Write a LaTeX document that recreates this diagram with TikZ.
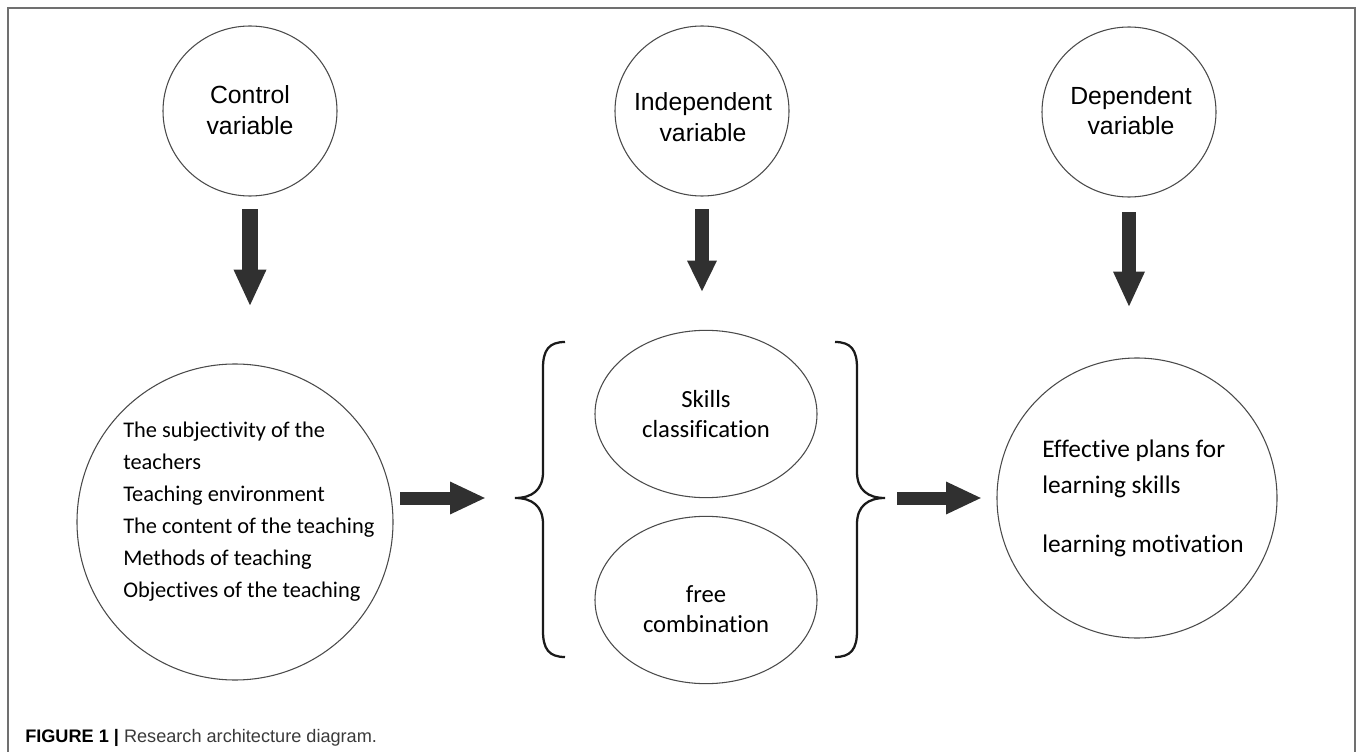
\documentclass[tikz,border=0pt]{standalone}
\usepackage{fontspec}
\setmainfont{Carlito}[Ligatures=NoCommon]
\newfontfamily\arialf{Liberation Sans}
\usetikzlibrary{arrows.meta,calc,shapes.geometric}
\definecolor{arrowc}{HTML}{303030}
\definecolor{linec}{HTML}{4A4A4A}
\definecolor{framec}{HTML}{707070}
\definecolor{bracec}{HTML}{1A1A1A}
\definecolor{captc}{HTML}{3A3A3A}
\begin{document}
\begin{tikzpicture}[x=0.75pt,y=-0.75pt,
  shapeline/.style={draw=linec,line width=0.8pt,inner sep=0pt},
  topell/.style={shapeline,ellipse,minimum width=130.5pt,minimum height=127.5pt},
  bigcirc/.style={shapeline,circle,minimum size=#1},
  midell/.style={shapeline,ellipse,minimum width=166.5pt,minimum height=125.5pt},
  toptxt/.style={font=\arialf\fontsize{18.6}{23}\selectfont,inner sep=0pt,anchor=base},
  bodytxt/.style={font=\fontsize{16.8}{24}\selectfont,inner sep=0pt,anchor=base west},
  righttxt/.style={font=\fontsize{19}{24}\selectfont,inner sep=0pt,anchor=base west},
  midtxt/.style={font=\fontsize{18.5}{24}\selectfont,inner sep=0pt,anchor=base},
  blk/.style n args={3}{draw=arrowc,line width=#1,-{Triangle[length=#2,width=#3]}},
  bracel/.style={draw=bracec,line width=1.7pt}
]
\useasboundingbox (0,0) rectangle (1357,752);
% frame
\draw[framec,line width=1.1pt] (8,752) -- (8,8) -- (1355,8) -- (1355,752);

% top circles
\node[topell] (ctrl) at (250,111) {};
\node[topell] (ind) at (702,111) {};
\node[topell] (dep) at (1129,112) {};
\node[toptxt] (ctrl1) at (250,104) {Control};
\node[toptxt] (ctrl2) at (250,135) {variable};
\node[toptxt] (ind1) at (703,111) {Independent};
\node[toptxt] (ind2) at (703,142) {variable};
\node[toptxt] (dep1) at (1131,105) {Dependent};
\node[toptxt] (dep2) at (1131,135) {variable};

% lower shapes
\node[bigcirc=237pt] (lc) at (235,522) {};
\node[midell] (sk) at (706,414) {};
\node[midell] (fc) at (706,600) {};
\node[bigcirc=210pt] (rc) at (1137,498) {};

% left circle text
\node[bodytxt] (l1) at (123,437) {The subjectivity of the};
\node[bodytxt] (l2) at (123,469) {teachers};
\node[bodytxt] (l3) at (123,501) {Teaching environment};
\node[bodytxt] (l4) at (123,533) {The content of the teaching};
\node[bodytxt] (l5) at (123,565) {Methods of teaching};
\node[bodytxt] (l6) at (123,597) {Objectives of the teaching};

% ellipse texts
\node[midtxt] (sk1) at (706,407) {Skills};
\node[midtxt] (sk2) at (706,437) {classification};
\node[midtxt] (fc1) at (706,602) {free};
\node[midtxt] (fc2) at (706,632) {combination};

% right circle text
\node[righttxt] (r1) at (1042,457) {Effective plans for};
\node[righttxt] (r2) at (1042,493) {learning skills};
\node[righttxt] (r3) at (1042,552) {learning motivation};

% brace tips
\coordinate (lbtip) at (515,498);
\coordinate (rbtip) at (885,498);

% braces
\draw[bracel] (565,342) .. controls (549,342) and (543,350) .. (543,368)
  -- (543,472) .. controls (543,490) and (532,498) .. (lbtip)
  .. controls (532,498) and (543,506) .. (543,524)
  -- (543,631) .. controls (543,649) and (549,657) .. (565,657);
\draw[bracel] (835,342) .. controls (851,342) and (857,350) .. (857,368)
  -- (857,472) .. controls (857,490) and (868,498) .. (rbtip)
  .. controls (868,498) and (857,506) .. (857,524)
  -- (857,631) .. controls (857,649) and (851,657) .. (835,657);

% down arrows
\draw[blk={12pt}{27.75pt}{22.5pt}] ($(ctrl.south)+(0,12.5)$) -- ($(ctrl.south)+(0,110)$);
\draw[blk={10pt}{23.5pt}{20.5pt}] ($(ind.south)+(0,12.5)$) -- ($(ind.south)+(0,95.5)$);
\draw[blk={11pt}{27pt}{21.75pt}] ($(dep.south)+(0,14.5)$) -- ($(dep.south)+(0,110)$);

% horizontal arrows
\draw[blk={9.75pt}{27pt}{22.5pt}] ($(lbtip)+(-115,0)$) -- ($(lbtip)+(-29,0)$);
\draw[blk={9.75pt}{27pt}{22.5pt}] ($(rbtip)+(12,0)$) -- ($(rbtip)+(97,0)$);

% caption
\node[font=\arialf\fontsize{13.6}{16}\selectfont,inner sep=0pt,anchor=base west] (cap) at (25,742)
  {\textcolor{black}{\bfseries FIGURE 1 |} \textcolor{captc}{Research architecture diagram.}};
\end{tikzpicture}
\end{document}
